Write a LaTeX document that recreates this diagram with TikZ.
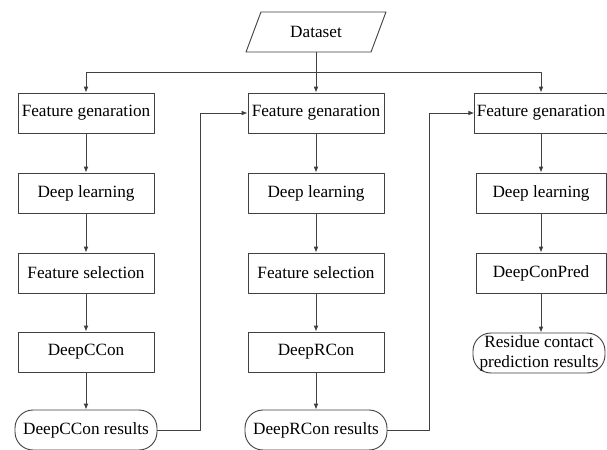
\documentclass[tikz,border=0pt]{standalone}
\usepackage{fontspec}
\setmainfont{Liberation Serif}
\usepackage{tikz}
\usetikzlibrary{arrows.meta,shapes.geometric}
\definecolor{lnclr}{rgb}{0.25,0.25,0.25}

\begin{document}
\begin{tikzpicture}[line cap=round,line join=round,>={Latex[length=3pt,width=2.4pt]},x=0.5pt,y=-0.5pt,
    box/.style={draw=lnclr,line width=0.45pt,minimum width=68pt,minimum height=20pt,inner sep=1pt,font=\fontsize{8.6}{10}\selectfont},
    term/.style={box,rounded corners=9pt,minimum width=71pt},
    data/.style={box,trapezium,trapezium left angle=64,trapezium right angle=116,trapezium stretches=true,minimum width=70pt}]
      \useasboundingbox[fill=white] (0,0) rectangle (607,450);
      % source
      \node[data] (dset) at (316,32) {Dataset};
      % first column
      \node[box] (fg1) at (86,113) {Feature genaration};
      \node[box] (dl1) at (86,193) {Deep learning};
      \node[box] (fs1) at (86,273) {Feature selection};
      \node[box] (dcc) at (86,352) {DeepCCon};
      \node[term] (res1) at (86,430) {DeepCCon results};
      % second column
      \node[box] (fg2) at (316,113) {Feature genaration};
      \node[box] (dl2) at (316,193) {Deep learning};
      \node[box] (fs2) at (316,273) {Feature selection};
      \node[box] (drc) at (316,352) {DeepRCon};
      \node[term] (res2) at (316,430) {DeepRCon results};
      % third column
      \node[box,minimum width=65pt] (fg3) at (541,113) {Feature genaration};
      \node[box,minimum width=65pt] (dl3) at (541,193) {Deep learning};
      \node[box,minimum width=65pt] (dcp) at (541,273) {DeepConPred};
      \node[term,minimum width=66pt,inner sep=0pt,align=center] (res3) at (539,353) {Residue contact\\prediction results};
      % connectors
      \coordinate (bus) at (316,72);
      \draw[lnclr,line width=0.45pt] (dset) -- (bus);
      \draw[->,lnclr,line width=0.45pt] (bus) -| (fg1);
      \draw[->,lnclr,line width=0.45pt] (bus) -- (fg2);
      \draw[->,lnclr,line width=0.45pt] (bus) -| (fg3);
      \foreach \a/\b in {fg1/dl1,dl1/fs1,fs1/dcc,dcc/res1,fg2/dl2,dl2/fs2,fs2/drc,drc/res2,fg3/dl3,dl3/dcp}
      \draw[->,lnclr,line width=0.45pt] (\a) -- (\b);
      \draw[->,lnclr,line width=0.45pt] (dcp) -- (dcp |- res3.north);
      % feedback
      \coordinate (fb1) at (200,430);
      \coordinate (fb2) at (429,430);
      \draw[->,lnclr,line width=0.45pt] (res1) -- (fb1) |- (fg2);
      \draw[->,lnclr,line width=0.45pt] (res2) -- (fb2) |- (fg3);
\end{tikzpicture}
\end{document}
